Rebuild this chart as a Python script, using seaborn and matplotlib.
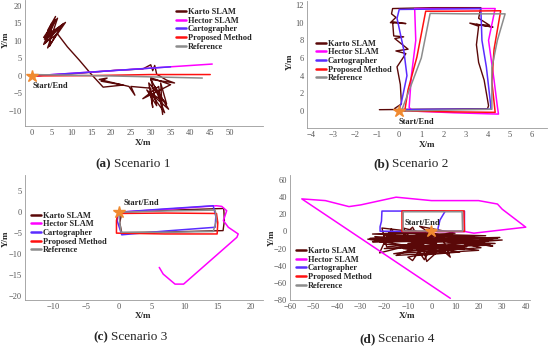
import matplotlib
matplotlib.use("Agg")
import matplotlib.pyplot as plt
import seaborn as sns

# ---------------- data ----------------
methods = ["Karto SLAM", "Hector SLAM", "Cartographer", "Proposed Method", "Reference"]
colors = ["#5a0808", "#ff00ff", "#5a2cff", "#ff1010", "#8c8c8c"]

# Scenario 1
karto_a_x = [0, 10, 21, 28, 30, 30.5, 31, 31.5, 34, 36, 30, 33, 30, 33.5, 31, 34.5, 29, 31.5, 30, 35,
             28, 32, 33, 32.5, 34, 29.5, 30.5, 30, 25, 26, 24.5, 17, 19, 17.5, 23, 18, 15, 12, 9, 6.5,
             4, 3, 6, 4, 6.5, 4, 8.5, 3.2, 5, 4.5, 7.5, 3, 6, 3.5, 8, 4, 5]
karto_a_y = [0, 0.6, 1.6, 2.0, 3.2, 1.5, 3.0, 0.5, -1.2, -2, -1, -7, -5, -10.5, -3, -9.5, -4, -8.5,
             -0.5, -2.5, -6.5, -3, -11, -2, -8, -2, -9, -3.5, -3, -5.5, -3, -1, -0.6, -1.5, -2.6, -3.2,
             0.5, 4.5, 8.3, 12, 10, 9, 17, 13, 16.5, 8, 15.3, 10.5, 15, 8.5, 14.5, 11, 16, 9.5, 15, 11,
             12.5]
hector_a_x = [0, 45.5]
hector_a_y = [0.0, 3.4]
carto_a_x = [0, 35]
carto_a_y = [0.0, 2.6]
prop_a_x = [0, 15, 30, 45]
prop_a_y = [0.0, 0.1, 0.4, 0.4]
ref_a_x = [0, 20, 43]
ref_a_y = [0.4, 0.0, -0.6]

# Scenario 2
karto_b_x = [-0.9, 1.0, 4.0, 4.05, 3.85, 3.6, 3.5, 3.6, 3.2, 4.25, 3.5, 4.1, 3.6, 3.7, 1.5, -0.3,
             -0.35, -0.15, -0.4, 0.3, -0.3, -0.25, 0.2, -0.2, 0.4, -0.15, 0.3, -0.1, 0.05, 0.1, -0.2]
karto_b_y = [0.15, 0.2, 0.25, 0.6, 3.5, 5.5, 7.5, 9.6, 9.95, 9.5, 9.8, 9.7, 10.5, 11.7, 11.7, 11.6,
             11.0, 10.6, 10.0, 9.9, 10.1, 8.5, 8.4, 8.2, 7.0, 6.8, 6.5, 5.0, 3.0, 0.8, 0.3]
hector_b_x = [0.6, 2.5, 4.5, 4.45, 4.3, 4.05, 4.35, 2.5, 0.7, 0.75, 0.55, 0.45, 0.6]
hector_b_y = [0.0, -0.2, -0.35, 0.5, 3.5, 8.0, 11.6, 11.6, 11.6, 8.0, 4.0, 0.4, 0.0]
carto_b_x = [0.0, 2.0, 4.15, 4.15, 3.95, 3.75, 3.7, 2.0, 0.0, -0.1, 0.2, 0.35, 0.1, 0.0]
carto_b_y = [0.15, 0.2, 0.2, 0.6, 5.0, 8.0, 11.6, 11.55, 11.5, 10.5, 7.0, 4.0, 1.0, 0.15]
prop_b_x = [0.25, 2.5, 4.35, 4.2, 4.3, 4.6, 2.5, 1.2, 0.8, 0.4, 0.25]
prop_b_y = [0.0, -0.1, -0.15, 3.3, 7.0, 11.35, 11.3, 11.3, 6.1, 2.4, 0.0]
ref_b_x = [0.1, 2.0, 4.2, 4.2, 4.45, 4.8, 3.0, 1.4, 1.0, 0.4, 0.1]
ref_b_y = [0.0, 0.1, 0.2, 4.9, 8.0, 11.0, 11.0, 11.05, 6.0, 2.0, 0.0]

# Scenario 3
karto_c_x = [0, 8, 15.9, 16.0, 15.8, 8, 0.4, 0.1, 0.3, 0]
karto_c_y = [0, 0.5, 0.9, -2.0, -4.4, -4.7, -4.9, -2.5, -1.0, 0]
hector_c_x = [0, 8, 14.8, 15.6, 16.35, 15.85, 16.6, 18.1, 17.9, 9.8, 8.5, 6.7, 6.1]
hector_c_y = [0, 0.8, 1.55, 1.4, 0.36, -2.0, -3.6, -5.2, -6.0, -17.2, -17.2, -14.8, -13.2]
carto_c_x = [-0.1, 7, 14.3, 14.7, 14.6, 7, 0.4, -0.3, -0.1]
carto_c_y = [0, 0.8, 1.55, -1.0, -3.6, -4.5, -5.4, -2.0, 0]
prop_c_x = [-0.2, 7, 14.8, 15.0, 14.9, 7, -0.4, -0.4, -0.2]
prop_c_y = [-0.3, -0.2, -0.3, -2.5, -5.2, -5.2, -5.0, -2.0, -0.3]
ref_c_x = [0, 7, 14.6, 14.8, 14.3, 7, 0.3, 0.1, 0]
ref_c_y = [0, 0.3, 0.5, -2.0, -4.6, -4.8, -4.8, -2.5, 0]

# Scenario 4
karto_d_x = [0, -25, 28, -22, 30, -20, 25, -24, 20, -15, 5, -18, 22, -10, -8, -5, 15, -20, -17, -14,
             -8, -4, -2, 2, -12, 27, -26, 10, -5, 3, -22, -18, 18, -10, 12, -6, 24, -25, 0, 8, 4,
             -21, -19, 16, -23, 29, -16, 21, -12, -3, 1, -9, 26, -20, 14, -15, 6, -27, 23, -6, 2]
karto_d_y = [0, -3, -8, -12, -10, -20, -16, -6, -22, -28, -5, -8, -12, -30, -34, -22, -18, -15, 3,
             -10, 5, -15, -35, -25, -20, -14, -8, -2, 6, -8, -25, -1, -6, -14, -24, -28, -11, -12, -10,
             -30, -4, 4, -18, -9, -10, -7, -26, -19, 4, -33, -12, -6, -17, -4, -21, -16, -24, -9, -5,
             -3, -14]
hector_d_x = [8, -55, -45, -35, -30, -15, 0, 20, 28, 30, 40, 18, 14, 0]
hector_d_y = [-78, 38, 36, 29, 31, 40, 36, 36, 32, 26, 5, -2, 0, 0]
carto_d_x = [0, -10, -21.8, -21.8, -21.2, -21.0, -12, 0, 5.8, 3.6, 2.9, 2.5, 14, 14]
carto_d_y = [0, 0, 0.3, 5.5, 12, 23.8, 23.8, 23.8, 23.5, 13.3, 5, 0, 0, 23.8]
prop_d_x = [0, -12.5, -12.5, 13.8, 14.0, 0]
prop_d_y = [0, 0, 24, 24, 0, 0]
ref_d_x = [0, -12, -12, 13, 13.2, 0]
ref_d_y = [0.5, 0.5, 23, 23, 0.5, 0.5]

panels = {
    "a": [(karto_a_x, karto_a_y), (hector_a_x, hector_a_y), (carto_a_x, carto_a_y),
          (prop_a_x, prop_a_y), (ref_a_x, ref_a_y)],
    "b": [(karto_b_x, karto_b_y), (hector_b_x, hector_b_y), (carto_b_x, carto_b_y),
          (prop_b_x, prop_b_y), (ref_b_x, ref_b_y)],
    "c": [(karto_c_x, karto_c_y), (hector_c_x, hector_c_y), (carto_c_x, carto_c_y),
          (prop_c_x, prop_c_y), (ref_c_x, ref_c_y)],
    "d": [(karto_d_x, karto_d_y), (hector_d_x, hector_d_y), (carto_d_x, carto_d_y),
          (prop_d_x, prop_d_y), (ref_d_x, ref_d_y)],
}
captions = {"a": "Scenario 1", "b": "Scenario 2", "c": "Scenario 3", "d": "Scenario 4"}

# ---------------- layout (pixels of a 550x348 canvas) ----------------
W, H = 550, 348
layout = {
    # axes box in px: left, top, right, bottom ; limits ; ticks
    "a": dict(box=(25, 0, 263, 126), xlim=(-1.7, 58.3), ylim=(-14.3, 21.7),
              xt=range(0, 51, 5), yt=range(-10, 21, 5),
              leg=(176, 8), xl=(143, 143), yl=(6, 40), cap=(111, 164),
              se=(0.2, -2.9)),
    "b": dict(box=(306.6, 0.6, 547, 127.8), xlim=(-4.2, 6.7), ylim=(-1.9, 12.5),
              xt=range(-4, 7), yt=range(0, 13, 2),
              leg=(316, 39.5), xl=(427, 145), yl=(290, 62), cap=(390, 164),
              se=(-0.05, -1.25)),
    "c": dict(box=(25, 174.6, 263.2, 300), xlim=(-14.3, 21.9), ylim=(-21, 9),
              xt=range(-10, 21, 5), yt=range(-20, 6, 5),
              leg=(31, 211.5), xl=(143, 316), yl=(6, 239), cap=(108.5, 337),
              se=(0.75, 2.2)),
    "d": dict(box=(290, 174.9, 530, 300), xlim=(-60, 41.8), ylim=(-80, 66),
              xt=range(-60, 41, 10), yt=range(-80, 61, 20),
              leg=(296, 247), xl=(407, 316), yl=(272, 238), cap=(375.5, 339),
              se=(-11.2, 9.5)),
}

sns.set_style("white")
plt.rcParams["font.family"] = ["Liberation Serif", "DejaVu Serif"]

fig = plt.figure(figsize=(W / 100, H / 100), dpi=100)

for key, series in panels.items():
    L = layout[key]
    x0, y0, x1, y1 = L["box"]
    ax = fig.add_axes([x0 / W, 1 - y1 / H, (x1 - x0) / W, (y1 - y0) / H])

    for (xs, ys), name, col in zip(series, methods, colors):
        lw = 1.0 if name == "Karto SLAM" else 1.1
        sns.lineplot(x=xs, y=ys, sort=False, estimator=None, color=col, lw=lw,
                     label=name, ax=ax)

    # start / end marker
    ax.plot([0], [0], marker="*", color="#f08a30", markersize=9, zorder=10, lw=0)
    ax.text(L["se"][0], L["se"][1], "Start/End", fontsize=6, fontweight="bold",
            ha="left", va="center", color="#222222", zorder=11)

    ax.set_xlim(*L["xlim"])
    ax.set_ylim(*L["ylim"])
    ax.set_xticks(list(L["xt"]))
    ax.set_yticks(list(L["yt"]))
    ax.tick_params(labelsize=6, colors="#555555", length=2, width=0.5, direction="in", pad=2)
    for s in ["top", "right"]:
        ax.spines[s].set_visible(False)
    for s in ["left", "bottom"]:
        ax.spines[s].set_color("#9a9a9a")
        ax.spines[s].set_linewidth(0.6)
    ax.set_xlabel("")
    ax.set_ylabel("")

    handles, labels = ax.get_legend_handles_labels()
    leg = ax.legend(handles[:5], labels[:5], loc="upper left",
                    bbox_to_anchor=(L["leg"][0] / W, 1 - L["leg"][1] / H),
                    bbox_transform=fig.transFigure, frameon=False, borderpad=0,
                    borderaxespad=0, handlelength=1.25, handletextpad=0.2,
                    labelspacing=0.08, prop={"size": 6, "weight": "bold"})
    for lh in leg.get_lines():
        lh.set_linewidth(1.8)

    # axis labels
    fig.text(L["xl"][0] / W, 1 - L["xl"][1] / H, "X/m", fontsize=6.5, fontweight="bold",
             ha="center", va="center")
    fig.text(L["yl"][0] / W, 1 - L["yl"][1] / H, "Y/m", fontsize=6.5, fontweight="bold",
             ha="center", va="center", rotation=90)

    # caption
    cx, cy = L["cap"]
    fig.text(cx / W, 1 - cy / H, f"({key})", fontsize=9.5, fontweight="bold",
             ha="right", va="center")
    fig.text((cx + 2.5) / W, 1 - cy / H, captions[key], fontsize=9.5,
             ha="left", va="center")

fig.savefig("out.png", dpi=100)
